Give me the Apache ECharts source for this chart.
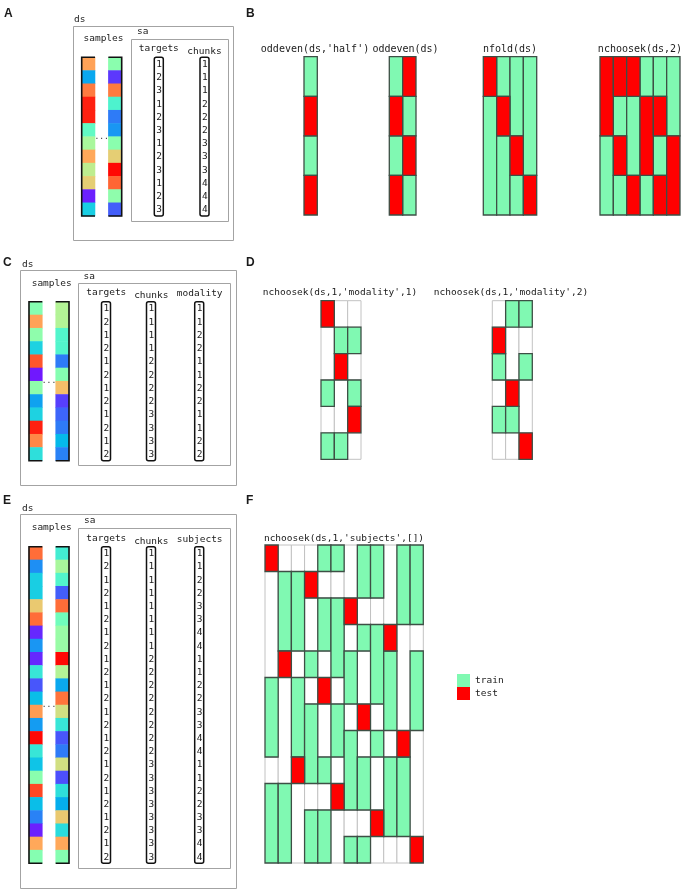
<!DOCTYPE html>
<html><head><meta charset="utf-8">
<script src="https://cdn.jsdelivr.net/npm/echarts@6/dist/echarts.min.js"></script>
<style>html,body{margin:0;padding:0;background:#fff}#chart{width:683px;height:891px}</style>
</head><body><div id="chart"></div>
<script>
// ================= DATA =================
// Panel A
const samplesA_first = [0.78,0.23,0.84,0.96,0.96,0.44,0.58,0.77,0.62,0.70,0.04,0.30];
const samplesA_last  = [0.52,0.07,0.84,0.40,0.16,0.20,0.52,0.70,0.99,0.87,0.53,0.12];
const targetsA = [1,2,3,1,2,3,1,2,3,1,2,3];
const chunksA  = [1,1,1,2,2,2,3,3,3,4,4,4];
// Panel B (columns = folds, letters per block: G=train, R=test, W=unused)
const titlesB = ["oddeven(ds,'half')", "oddeven(ds)", "nfold(ds)", "nchoosek(ds,2)"];
const foldsB_half     = ["GRGR"];
const foldsB_oddeven  = ["GRGR","RGRG"];
const foldsB_nfold    = ["RGGG","GRGG","GGRG","GGGR"];
const foldsB_nchoosek = ["RRGG","RGRG","RGGR","GRRG","GRGR","GGRR"];
// Panel C
const samplesC_first = [0.51,0.78,0.53,0.31,0.89,0.03,0.53,0.22,0.31,0.96,0.82,0.34];
const samplesC_last  = [0.60,0.60,0.41,0.41,0.16,0.51,0.73,0.08,0.13,0.16,0.26,0.17];
const targetsC  = [1,2,1,2,1,2,1,2,1,2,1,2];
const chunksC   = [1,1,1,1,2,2,2,2,3,3,3,3];
const modalityC = [1,1,2,2,1,1,2,2,1,1,2,2];
// Panel D
const titlesD = ["nchoosek(ds,1,'modality',1)", "nchoosek(ds,1,'modality',2)"];
const foldsD_mod1 = ["RWWGWG","WGRWWG","WGWGRW"];
const foldsD_mod2 = ["WRGWGW","GWWRGW","GWGWWR"];
// Panel E
const samplesE_first = [0.86,0.19,0.30,0.30,0.71,0.86,0.05,0.20,0.05,0.36,0.11,0.27,
                        0.79,0.21,0.99,0.36,0.28,0.52,0.91,0.27,0.17,0.04,0.77,0.51];
const samplesE_last  = [0.38,0.58,0.41,0.12,0.86,0.47,0.55,0.55,0.99,0.60,0.23,0.85,
                        0.66,0.36,0.11,0.16,0.66,0.10,0.34,0.24,0.71,0.33,0.77,0.51];
const targetsE  = [1,2,1,2,1,2,1,2,1,2,1,2,1,2,1,2,1,2,1,2,1,2,1,2];
const chunksE   = [1,1,1,1,1,1,1,1,2,2,2,2,2,2,2,2,3,3,3,3,3,3,3,3];
const subjectsE = [1,1,2,2,3,3,4,4,1,1,2,2,3,3,4,4,1,1,2,2,3,3,4,4];
// Panel F
const titleF = "nchoosek(ds,1,'subjects',[])";
const foldsF = [
  "RWWWWGGGWGGG","WGGGRWWWWGGG","WGGGWGGGRWWW",
  "WRWWGWGGGWGG","GWGGWRWWGWGG","GWGGGWGGWRWW",
  "WWRWGGWGGGWG","GGWGWWRWGGWG","GGWGGGWGWWRW",
  "WWWRGGGWGGGW","GGGWWWWRGGGW","GGGWGGGWWWWR"
];
const legendLabels = ["train","test"];

// ================= STYLE =================
const MONO = '"DejaVu Sans Mono", monospace';
const GREEN = '#80f9b2', RED = '#ff0000', EDGE = '#3d4f45', GRIDGRAY = '#c2c2c2';
function rainbow(x){
  const r = Math.min(1, Math.abs(2*x - 0.5)), g = Math.sin(Math.PI*x), b = Math.cos(Math.PI*x/2);
  return 'rgb(' + Math.round(r*255) + ',' + Math.round(g*255) + ',' + Math.round(Math.max(0,b)*255) + ')';
}
const rainbowStops = Array.from({length: 21}, (_, i) => rainbow(i/20));

// ================= BUILDERS =================
const grids = [], xAxes = [], yAxes = [], series = [], graphics = [], heatIdx = [];
function addGrid(rect, nCols, nRows){
  const gi = grids.length;
  grids.push({left: rect.left, top: rect.top, width: rect.width, height: rect.height, outerBoundsMode: 'none', containLabel: false});
  xAxes.push({type: 'category', gridIndex: gi, show: false, data: Array.from({length: nCols}, (_, i) => 'c' + i)});
  yAxes.push({type: 'category', gridIndex: gi, show: false, inverse: true, data: Array.from({length: nRows}, (_, i) => 'r' + i)});
  return gi;
}
function textEl(x, y, text, font, align, vAlign, fill){
  return {type: 'text', x: x, y: y, silent: true,
    style: {text: text, font: font, fill: fill || '#1a1a1a', align: align, verticalAlign: vAlign || 'middle',
            textAlign: align, textVerticalAlign: vAlign || 'middle'}};
}
function blockRender(stroke, lw, fixedFill, radius){
  return function(params, api){
    const c = api.value(0), r0 = api.value(1), r1 = api.value(2);
    const a = api.coord([c, r0]), b = api.coord([c, r1]);
    const s = api.size([1, 1]);
    return {type: 'rect',
      shape: {x: a[0] - s[0]/2, y: Math.min(a[1], b[1]) - s[1]/2, width: s[0], height: Math.abs(b[1] - a[1]) + s[1], r: radius || 0},
      style: {fill: fixedFill || api.visual('color'), stroke: stroke, lineWidth: lw}};
  };
}
function runs(folds, letter){
  const out = [];
  folds.forEach((col, c) => {
    let r = 0;
    while (r < col.length){
      let e = r;
      while (e + 1 < col.length && col[e+1] === col[r]) e++;
      if (col[r] === letter) out.push([c, r, e]);
      r = e + 1;
    }
  });
  return out;
}
function addFolds(rect, folds){
  const gi = addGrid(rect, folds.length, folds[0].length);
  const common = {type: 'custom', xAxisIndex: gi, yAxisIndex: gi, silent: true};
  series.push(Object.assign({}, common, {name: 'unused', z: 2, data: runs(folds, 'W'), renderItem: blockRender(GRIDGRAY, 1, '#ffffff')}));
  series.push(Object.assign({}, common, {name: legendLabels[0], z: 3, itemStyle: {color: GREEN}, data: runs(folds, 'G'), renderItem: blockRender(EDGE, 1.3)}));
  series.push(Object.assign({}, common, {name: legendLabels[1], z: 4, itemStyle: {color: RED}, data: runs(folds, 'R'), renderItem: blockRender(EDGE, 1.3)}));
}
function addSamples(rect, first, last){
  const n = first.length;
  const gi = addGrid(rect, 3, n);
  const data = [];
  first.forEach((v, i) => data.push([0, i, v]));
  last.forEach((v, i) => data.push([2, i, v]));
  heatIdx.push(series.length);
  series.push({type: 'heatmap', xAxisIndex: gi, yAxisIndex: gi, data: data, silent: true, z: 2,
    itemStyle: {borderWidth: 0}, emphasis: {disabled: true}});
  series.push({type: 'custom', xAxisIndex: gi, yAxisIndex: gi, silent: true, z: 3, data: [[1, 0, n - 1]],
    renderItem: function(params, api){
      const s = api.size([1, 1]);
      const t = api.coord([0, api.value(1)]), b = api.coord([0, api.value(2)]);
      const yT = t[1] - s[1]/2, yB = b[1] + s[1]/2;
      const xL0 = t[0] - s[0]/2, xL1 = t[0] + s[0]/2;
      const rc = api.coord([2, 0])[0];
      const xR0 = rc - s[0]/2, xR1 = rc + s[0]/2;
      const mid = api.coord([api.value(0), 0])[0];
      const ls = {stroke: '#111', lineWidth: 1.6, fill: 'none'};
      return {type: 'group', children: [
        {type: 'polyline', shape: {points: [[xL1, yT], [xL0, yT], [xL0, yB], [xL1, yB]]}, style: ls},
        {type: 'polyline', shape: {points: [[xR0, yT], [xR1, yT], [xR1, yB], [xR0, yB]]}, style: ls},
        {type: 'text', x: mid, y: (yT + yB)/2, style: {text: '...', font: '8px ' + MONO, fill: '#333',
          align: 'center', verticalAlign: 'middle', textAlign: 'center', textVerticalAlign: 'middle'}}
      ]};
    }});
}
function addAttr(rect, values){
  const n = values.length;
  const gi = addGrid(rect, 1, n);
  series.push({type: 'custom', xAxisIndex: gi, yAxisIndex: gi, silent: true, z: 3, data: [[0, 0, n - 1]],
    renderItem: blockRender('#111', 1.5, 'none', 2)});
  series.push({type: 'custom', xAxisIndex: gi, yAxisIndex: gi, silent: true, z: 4,
    data: values.map((v, i) => [0, i, v]),
    renderItem: function(params, api){
      const c = api.coord([api.value(0), api.value(1)]);
      return {type: 'text', x: c[0] + 0.3, y: c[1] + 0.5, style: {text: String(api.value(2)), font: '9.5px ' + MONO, fill: '#1a1a1a',
        align: 'center', verticalAlign: 'middle', textAlign: 'center', textVerticalAlign: 'middle'}};
    }});
}
function boxEl(x0, y0, x1, y1){
  return {type: 'rect', silent: true, shape: {x: x0, y: y0, width: x1 - x0, height: y1 - y0},
    style: {fill: 'none', stroke: '#a3a3a3', lineWidth: 1}};
}
const F_TXT = '9.5px ' + MONO, F_LET = 'bold 12px "Liberation Sans", Arial, sans-serif';

// ================= PANEL A =================
graphics.push(textEl(4, 13.5, 'A', F_LET, 'left'));
graphics.push(boxEl(73.5, 26.5, 233.5, 240.5));
graphics.push(boxEl(131.5, 39.5, 228.5, 221.5));
graphics.push(textEl(74, 19.5, 'ds', F_TXT, 'left'));
graphics.push(textEl(103.5, 38.5, 'samples', F_TXT, 'center'));
graphics.push(textEl(137, 32, 'sa', F_TXT, 'left'));
graphics.push(textEl(158.8, 49, 'targets', F_TXT, 'center'));
graphics.push(textEl(204.5, 52, 'chunks', F_TXT, 'center'));
addSamples({left: 81.7, top: 57.3, width: 40, height: 158.7}, samplesA_first, samplesA_last);
addAttr({left: 154.3, top: 57.3, width: 9, height: 158.7}, targetsA);
addAttr({left: 200, top: 57.3, width: 9, height: 158.7}, chunksA);

// ================= PANEL B =================
graphics.push(textEl(246, 13.5, 'B', F_LET, 'left'));
const bRects = [
  {left: 304, top: 56.7, width: 13.3, height: 158.3},
  {left: 389.3, top: 56.7, width: 26.7, height: 158.3},
  {left: 483.3, top: 56.7, width: 53.4, height: 158.3},
  {left: 600, top: 56.7, width: 80, height: 158.3}
];
const bTitleX = [315, 405.5, 510, 640];
[foldsB_half, foldsB_oddeven, foldsB_nfold, foldsB_nchoosek].forEach((f, i) => {
  addFolds(bRects[i], f);
  graphics.push(textEl(bTitleX[i], 49, titlesB[i], '10px ' + MONO, 'center'));
});

// ================= PANEL C =================
graphics.push(textEl(3, 262.5, 'C', F_LET, 'left'));
graphics.push(boxEl(20.5, 270.5, 236.5, 485.5));
graphics.push(boxEl(78.5, 283.5, 230.5, 465.5));
graphics.push(textEl(22, 265, 'ds', F_TXT, 'left'));
graphics.push(textEl(51.7, 283.3, 'samples', F_TXT, 'center'));
graphics.push(textEl(83.5, 276.5, 'sa', F_TXT, 'left'));
graphics.push(textEl(106.3, 293, 'targets', F_TXT, 'center'));
graphics.push(textEl(151.3, 296, 'chunks', F_TXT, 'center'));
graphics.push(textEl(199.7, 293.5, 'modality', F_TXT, 'center'));
addSamples({left: 29, top: 301.7, width: 40, height: 159}, samplesC_first, samplesC_last);
addAttr({left: 101.5, top: 301.7, width: 9, height: 159}, targetsC);
addAttr({left: 146.5, top: 301.7, width: 9, height: 159}, chunksC);
addAttr({left: 194.7, top: 301.7, width: 9, height: 159}, modalityC);

// ================= PANEL D =================
graphics.push(textEl(246, 262.5, 'D', F_LET, 'left'));
addFolds({left: 321, top: 300.7, width: 40, height: 158.6}, foldsD_mod1);
addFolds({left: 492.3, top: 300.7, width: 40, height: 158.6}, foldsD_mod2);
graphics.push(textEl(340, 293, titlesD[0], F_TXT, 'center'));
graphics.push(textEl(511, 293, titlesD[1], F_TXT, 'center'));

// ================= PANEL E =================
graphics.push(textEl(3, 501, 'E', F_LET, 'left'));
graphics.push(boxEl(20.5, 514.5, 236.5, 888.5));
graphics.push(boxEl(78.5, 528.5, 230.5, 868.5));
graphics.push(textEl(22, 508.5, 'ds', F_TXT, 'left'));
graphics.push(textEl(51.7, 528, 'samples', F_TXT, 'center'));
graphics.push(textEl(84, 521, 'sa', F_TXT, 'left'));
graphics.push(textEl(106.3, 539, 'targets', F_TXT, 'center'));
graphics.push(textEl(151.3, 542, 'chunks', F_TXT, 'center'));
graphics.push(textEl(199.7, 539.5, 'subjects', F_TXT, 'center'));
addSamples({left: 29, top: 546.7, width: 40, height: 316.6}, samplesE_first, samplesE_last);
addAttr({left: 101.5, top: 546.7, width: 9, height: 316.6}, targetsE);
addAttr({left: 146.5, top: 546.7, width: 9, height: 316.6}, chunksE);
addAttr({left: 194.7, top: 546.7, width: 9, height: 316.6}, subjectsE);

// ================= PANEL F =================
graphics.push(textEl(246, 501, 'F', F_LET, 'left'));
addFolds({left: 265, top: 545, width: 158.3, height: 318}, foldsF);
graphics.push(textEl(344, 538.5, titleF, F_TXT, 'center'));

// ================= CHART =================
const chart = echarts.init(document.getElementById('chart'), null, {renderer: 'canvas'});
chart.setOption({
  animation: false,
  backgroundColor: '#ffffff',
  grid: grids, xAxis: xAxes, yAxis: yAxes,
  visualMap: {show: false, type: 'continuous', min: 0, max: 1, dimension: 2, seriesIndex: heatIdx,
    inRange: {color: rainbowStops}},
  legend: {data: legendLabels, orient: 'vertical', left: 457, top: 674, padding: 0, itemGap: 0,
    itemWidth: 13, itemHeight: 13, icon: 'rect', selectedMode: false,
    textStyle: {fontFamily: MONO, fontSize: 9.5, color: '#1a1a1a'}},
  graphic: {elements: graphics},
  series: series
});
</script></body></html>
